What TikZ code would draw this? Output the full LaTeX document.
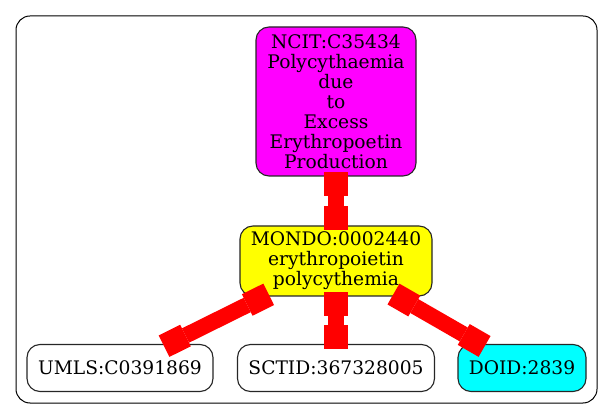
\documentclass[tikz,border=0pt]{standalone}
\usepackage{fontspec}
\setmainfont{DejaVu Serif}
\usetikzlibrary{arrows.meta}
\definecolor{gvmagenta}{RGB}{255,0,255}
\definecolor{gvyellow}{RGB}{255,255,0}
\definecolor{gvcyan}{RGB}{0,255,255}
\definecolor{gvred}{RGB}{255,0,0}
\begin{document}
\begin{tikzpicture}[x=1pt,y=-1pt,
  box/.style={draw=black!85, rounded corners=13pt, line width=1.1pt, inner sep=0pt, align=center,
    font=\fontsize{18.67}{20}\selectfont},
  link/.style={draw=gvred, line width=16pt, {Square[length=24pt,width=24pt,line width=0pt]}-{Square[length=24pt,width=24pt,line width=0pt]},
    shorten <=-5pt, shorten >=-5pt}]
\useasboundingbox (0,0) rectangle (613,419);
\node[draw=black, rounded corners=14pt, line width=1pt, minimum width=581pt, minimum height=387pt, inner sep=0pt] (cluster) at (306.5,209.5) {};
\node[box, fill=gvmagenta, minimum width=160pt, minimum height=149pt] (ncit) at (336,101.5)
  {NCIT:C35434\\Polycythaemia\\due\\to\\Excess\\Erythropoetin\\Production};
\node[box, fill=gvyellow, minimum width=192pt, minimum height=70pt] (mondo) at (336,261)
  {MONDO:0002440\\erythropoietin\\polycythemia};
\node[box, fill=white, minimum width=186pt, minimum height=47pt] (umls) at (120,368) {UMLS:C0391869};
\node[box, fill=white, minimum width=197pt, minimum height=47pt] (sctid) at (336,368) {SCTID:367328005};
\node[box, fill=gvcyan, minimum width=128pt, minimum height=47pt] (doid) at (522,368) {DOID:2839};
\draw[link] (ncit) -- (mondo);
\draw[link] (mondo) -- (umls);
\draw[link] (mondo) -- (sctid);
\draw[link] (mondo) -- (doid);
\end{tikzpicture}
\end{document}
